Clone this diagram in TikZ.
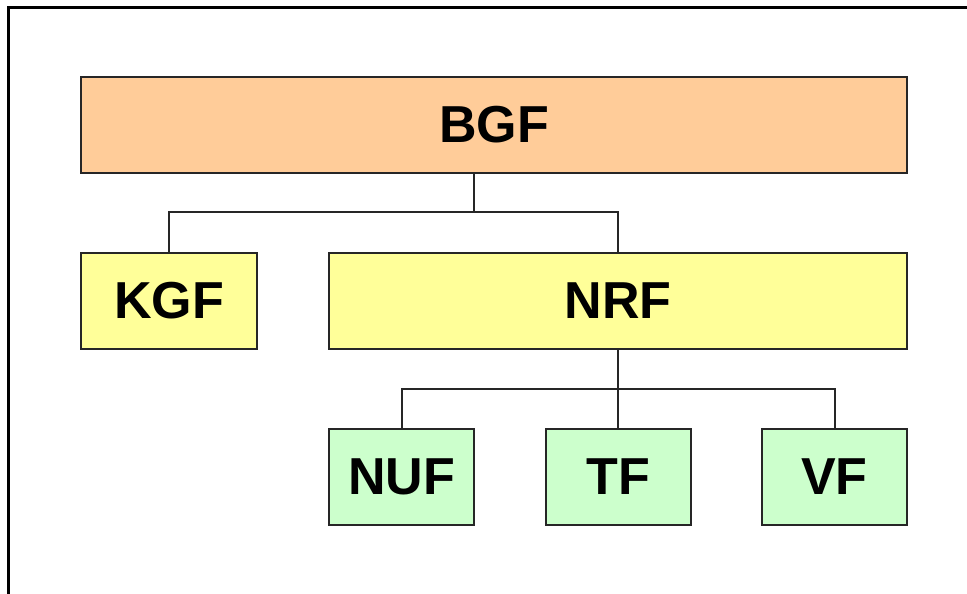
\documentclass[tikz,border=0pt]{standalone}
\usepackage{fontspec}
\setmainfont{Liberation Sans}
\definecolor{orangefill}{HTML}{FFCC99}
\definecolor{yellowfill}{HTML}{FFFF99}
\definecolor{greenfill}{HTML}{CCFFCC}
\begin{document}
\begin{tikzpicture}[x=1pt,y=-1pt,
  box/.style={draw=black!85, line width=2pt, minimum height=96pt, inner sep=0pt,
    font=\fontsize{52}{60}\selectfont\bfseries, text=black},
  conn/.style={draw=black!85, line width=2pt}]
\useasboundingbox (0,0) rectangle (967,594);
\draw[line width=3pt] (8,610) -- (8,8) -- (980,8);
\node[box, fill=orangefill, minimum width=826pt] (bgf) at (494,125) {BGF};
\node[box, fill=yellowfill, minimum width=176pt] (kgf) at (169,301) {KGF};
\node[box, fill=yellowfill, minimum width=578pt] (nrf) at (618,301) {NRF};
\node[box, fill=greenfill, minimum width=145pt] (nuf) at (401.5,477) {NUF};
\node[box, fill=greenfill, minimum width=145pt] (tf) at (618,477) {TF};
\node[box, fill=greenfill, minimum width=145pt] (vf) at (834.5,477) {VF};
\coordinate (b1) at (474,212);
\coordinate (n1) at (618,389);
\draw[conn] (bgf.south -| b1) -- (b1);
\draw[conn] (kgf.north) |- (b1) -| (nrf.north);
\draw[conn] (nrf.south) -- (n1);
\draw[conn] (nuf.north) |- (n1) -| (vf.north);
\draw[conn] (n1) -- (tf.north);
\end{tikzpicture}
\end{document}
